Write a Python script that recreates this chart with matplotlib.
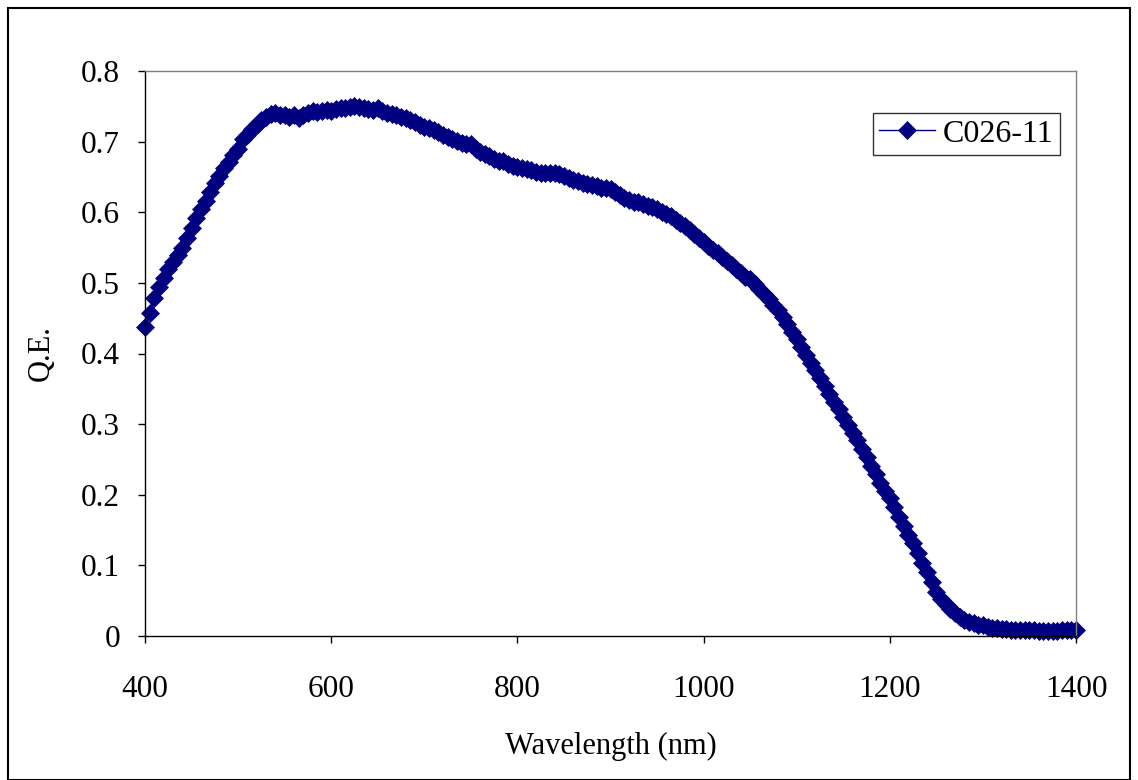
import matplotlib
matplotlib.use("Agg")
import matplotlib.pyplot as plt
import numpy as np
from matplotlib.patches import Rectangle

wavelength = list(range(400, 1405, 5))
qe = [
    0.438, 0.457, 0.478, 0.494, 0.507, 0.519, 0.530, 0.540, 0.550, 0.563,
    0.578, 0.592, 0.605, 0.616, 0.628, 0.641, 0.652, 0.662, 0.671, 0.681,
    0.690, 0.704, 0.710, 0.718, 0.724, 0.730, 0.735, 0.739, 0.741, 0.738,
    0.737, 0.735, 0.737, 0.734, 0.738, 0.740, 0.743, 0.742, 0.744, 0.745,
    0.744, 0.746, 0.748, 0.747, 0.749, 0.750, 0.749, 0.748, 0.746, 0.745,
    0.747, 0.744, 0.741, 0.739, 0.737, 0.735, 0.733, 0.731, 0.728, 0.724,
    0.721, 0.719, 0.716, 0.713, 0.709, 0.706, 0.704, 0.701, 0.698, 0.696,
    0.697, 0.690, 0.685, 0.682, 0.679, 0.676, 0.673, 0.672, 0.669, 0.666,
    0.664, 0.663, 0.661, 0.660, 0.657, 0.655, 0.656, 0.655, 0.655, 0.654,
    0.652, 0.649, 0.646, 0.644, 0.642, 0.640, 0.638, 0.637, 0.635, 0.634,
    0.633, 0.628, 0.624, 0.620, 0.617, 0.615, 0.614, 0.612, 0.609, 0.607,
    0.604, 0.601, 0.598, 0.594, 0.589, 0.585, 0.580, 0.575, 0.569, 0.564,
    0.558, 0.552, 0.547, 0.542, 0.536, 0.531, 0.525, 0.520, 0.514, 0.508,
    0.505, 0.498, 0.491, 0.484, 0.477, 0.469, 0.461, 0.452, 0.442, 0.431,
    0.420, 0.409, 0.398, 0.387, 0.376, 0.365, 0.354, 0.343, 0.332, 0.321,
    0.310, 0.299, 0.288, 0.277, 0.265, 0.253, 0.241, 0.229, 0.217, 0.206,
    0.195, 0.182, 0.169, 0.156, 0.143, 0.131, 0.118, 0.104, 0.090, 0.076,
    0.063, 0.053, 0.045, 0.038, 0.032, 0.027, 0.023, 0.020, 0.018, 0.016,
    0.015, 0.013, 0.012, 0.011, 0.010, 0.010, 0.009, 0.009, 0.008, 0.008,
    0.008, 0.008, 0.007, 0.007, 0.007, 0.007, 0.007, 0.008, 0.008, 0.008,
    0.009,
]
series_name = "C026-11"
x_ticks = [400, 600, 800, 1000, 1200, 1400]
y_ticks = [0, 0.1, 0.2, 0.3, 0.4, 0.5, 0.6, 0.7, 0.8]
y_tick_labels = ["0", "0.1", "0.2", "0.3", "0.4", "0.5", "0.6", "0.7", "0.8"]

plt.rcParams['font.family'] = ['Liberation Serif', 'DejaVu Serif']

W, H = 1138, 780
fig = plt.figure(figsize=(W / 100, H / 100), dpi=100)
ax = fig.add_axes([145 / W, 1 - 636 / H, (1076 - 145) / W, (636 - 71) / H])

navy = "#000080"
ax.plot(wavelength, qe, color=navy, lw=1.0, marker="D", markersize=9.0,
        markerfacecolor=navy, markeredgecolor=navy, markeredgewidth=0.5,
        label=series_name, clip_on=False)

ax.set_xlim(400, 1400)
ax.set_ylim(0, 0.8)
ax.set_xticks(x_ticks)
ax.set_xticklabels([str(v) for v in x_ticks])
ax.set_yticks(y_ticks)
ax.set_yticklabels(y_tick_labels)
ax.tick_params(axis="both", direction="out", length=5, width=1, color="black",
               labelsize=22.5)
ax.tick_params(axis="x", pad=23)
ax.tick_params(axis="y", pad=13)

for s in ["left", "bottom"]:
    ax.spines[s].set_color("black")
    ax.spines[s].set_linewidth(1.0)
for s in ["top", "right"]:
    ax.spines[s].set_color("#808080")
    ax.spines[s].set_linewidth(1.0)

ax.set_xlabel("Wavelength (nm)", fontsize=22, labelpad=20)
ax.set_ylabel("Q.E.", fontsize=22, labelpad=18)

leg = ax.legend(loc="upper right", bbox_to_anchor=(0.983, 0.926),
                borderaxespad=0, fontsize=23, frameon=True, fancybox=False,
                handlelength=1.75, handletextpad=0.25, borderpad=0.2)
leg.get_frame().set_edgecolor("black")
leg.get_frame().set_linewidth(1.0)

fig.patches.append(Rectangle((8 / W, 0.0), (1130 - 8) / W, 1 - 8 / H,
                             transform=fig.transFigure, fill=False,
                             edgecolor="black", linewidth=1.5))

fig.savefig("out.png", dpi=100, facecolor="white")
